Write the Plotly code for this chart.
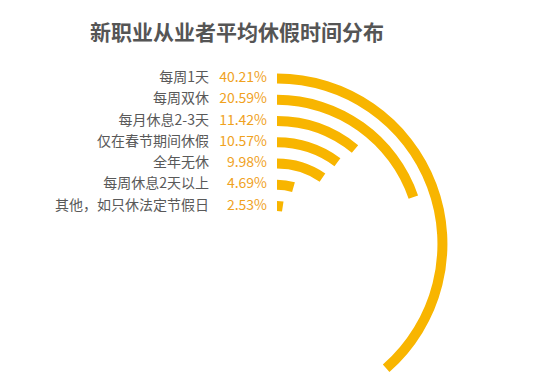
import plotly.graph_objects as go

# ---- data ----
categories = ["每周1天", "每周双休", "每月休息2-3天", "仅在春节期间休假", "全年无休", "每周休息2天以上", "其他，如只休法定节假日"]
values = [40.21, 20.59, 11.42, 10.57, 9.98, 4.69, 2.53]
value_labels = ["40.21%", "20.59%", "11.42%", "10.57%", "9.98%", "4.69%", "2.53%"]
title_text = "新职业从业者平均休假时间分布"

# ---- geometry / style ----
W, H = 550, 380
CX, CY = 277, 244          # centre of the rings (px)
S = 21.25                  # px per radial unit
RMAX = 8.1                 # radial axis range
DEG_PER_PCT = 3.45         # angular scale
BAR_COLOR = "#F8B500"
PCT_COLOR = "#F0A21E"
LABEL_COLOR = "#595959"
TITLE_COLOR = "#555555"
FONT = "Noto Sans CJK SC"

n = len(values)
ring = [n - i for i in range(n)]          # outer ring = largest value
bases = [k + 0.55 for k in ring]
thick = 0.47
centres = [k + 0.785 for k in ring]

theta = [v * DEG_PER_PCT / 2 for v in values]
widths = [v * DEG_PER_PCT for v in values]

fig = go.Figure()
fig.add_trace(go.Barpolar(
    r=[thick] * n, base=bases, theta=theta, width=widths,
    marker=dict(color=BAR_COLOR, line=dict(width=0)),
    hoverinfo="skip", showlegend=False,
))

# label text traces on a pixel-scaled cartesian overlay
fig.add_trace(go.Scatter(
    x=[209] * n, y=centres, text=categories, mode="text",
    textposition="middle left",
    textfont=dict(family=FONT, size=14, color=LABEL_COLOR),
    hoverinfo="skip", showlegend=False,
))
fig.add_trace(go.Scatter(
    x=[267] * n, y=centres, text=value_labels, mode="text",
    textposition="middle left",
    textfont=dict(family=FONT, size=14, color=PCT_COLOR),
    hoverinfo="skip", showlegend=False,
))

R_px = RMAX * S
x0, x1 = CX, CX + R_px
ytop, ybot = CY - R_px, CY + 0.7660 * R_px

fig.update_layout(
    width=W, height=H,
    margin=dict(l=0, r=0, t=0, b=0),
    paper_bgcolor="white", plot_bgcolor="rgba(0,0,0,0)",
    polar=dict(
        domain=dict(x=[x0 / W, x1 / W], y=[1 - ybot / H, 1 - ytop / H]),
        sector=[-50, 90],
        bgcolor="rgba(0,0,0,0)",
        radialaxis=dict(range=[0, RMAX], visible=False, showgrid=False),
        angularaxis=dict(direction="clockwise", rotation=90, visible=False,
                         showgrid=False),
    ),
    xaxis=dict(range=[0, W], visible=False, domain=[0, 1], fixedrange=True),
    yaxis=dict(range=[-(H - CY) / S, CY / S], visible=False, domain=[0, 1], fixedrange=True),
    title=dict(
        text="<b>" + title_text + "</b>",
        x=237 / W, y=1 - 33 / H, xanchor="center", yanchor="middle",
        xref="paper", yref="paper",
        font=dict(family=FONT, size=21, color=TITLE_COLOR),
    ),
    bargap=0,
)

fig.write_html("out.html", config={"displayModeBar": False},
               post_script="document.body.style.margin='0px';")
